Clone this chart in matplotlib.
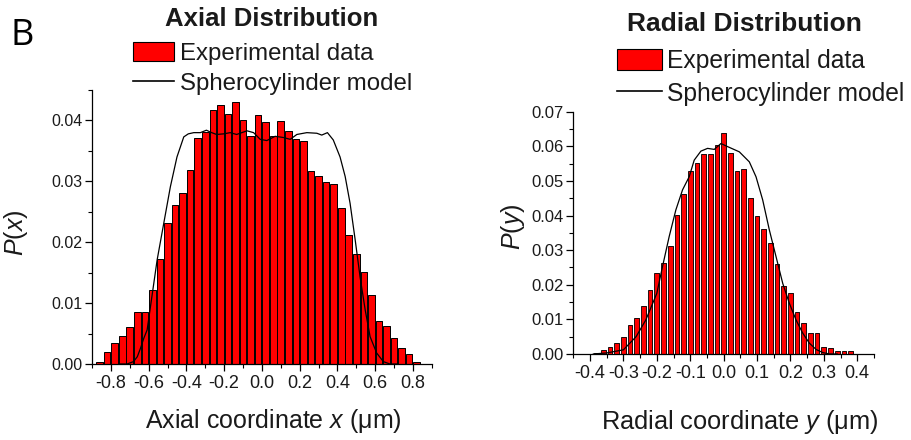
import numpy as np
import matplotlib
matplotlib.use("Agg")
import matplotlib.pyplot as plt
from matplotlib.ticker import MultipleLocator, FormatStrFormatter
from matplotlib.patches import Patch
from matplotlib.lines import Line2D

plt.rcParams['font.family'] = ['Liberation Sans', 'DejaVu Sans']
plt.rcParams['mathtext.fontset'] = 'custom'
plt.rcParams['mathtext.rm'] = 'Liberation Sans'
plt.rcParams['mathtext.it'] = 'Liberation Sans:italic'
plt.rcParams['axes.unicode_minus'] = False

# axial histogram (bin centres, bin width 0.04)
ax_centers = np.round(np.arange(-0.86, 0.83, 0.04), 2)
ax_hist = [0.0004, 0.0019, 0.0035, 0.0046, 0.0061, 0.0085, 0.0085, 0.0121, 0.0172,
           0.0232, 0.0261, 0.0281, 0.0318, 0.0371, 0.0381, 0.0418, 0.0426, 0.0410,
           0.0430, 0.0401, 0.0375, 0.0409, 0.0397, 0.0374, 0.0399, 0.0383, 0.0370,
           0.0367, 0.0317, 0.0308, 0.0299, 0.0296, 0.0257, 0.0212, 0.0181, 0.0151,
           0.0113, 0.0071, 0.0062, 0.0043, 0.0027, 0.0017, 0.0004]

# axial model curve
ax_model_x = [-0.75, -0.714, -0.68, -0.66, -0.643, -0.626, -0.608, -0.59, -0.555, -0.52,
              -0.485, -0.45, -0.414, -0.39, -0.361, -0.326, -0.294, -0.266, -0.24, -0.203,
              -0.168, -0.134, -0.079, -0.044, -0.009, 0.026, 0.07, 0.114, 0.15, 0.185,
              0.238, 0.291, 0.317, 0.347, 0.378, 0.414, 0.441, 0.467, 0.494, 0.52,
              0.547, 0.573, 0.608, 0.643, 0.678, 0.72]
ax_model_y = [0.0, 0.0, 0.0004, 0.0012, 0.0026, 0.0042, 0.0056, 0.0095, 0.0171, 0.0231,
              0.0291, 0.0340, 0.0373, 0.0378, 0.0380, 0.0380, 0.0384, 0.0380, 0.0377, 0.0378,
              0.0380, 0.0377, 0.0383, 0.0380, 0.0369, 0.0367, 0.0374, 0.0372, 0.0369, 0.0377,
              0.0380, 0.0379, 0.0376, 0.0380, 0.0368, 0.0340, 0.0308, 0.0264, 0.0204, 0.0143,
              0.0089, 0.0045, 0.0018, 0.0004, 0.0, 0.0]

# radial histogram (bin centres, bin width 0.02)
rad_centers = np.round(np.arange(-0.38, 0.39, 0.02), 2)
rad_hist = [0.0003, 0.0012, 0.0020, 0.0031, 0.0048, 0.0083, 0.0104, 0.0140, 0.0186,
            0.0235, 0.0264, 0.0313, 0.0401, 0.0461, 0.0528, 0.0551, 0.0579, 0.0579,
            0.0605, 0.0639, 0.0582, 0.0529, 0.0535, 0.0452, 0.0400, 0.0360, 0.0322,
            0.0261, 0.0195, 0.0177, 0.0120, 0.0089, 0.0062, 0.0060, 0.0021, 0.0018,
            0.0010, 0.0008, 0.0008]

# radial model curve
rad_model_x = [-0.39, -0.35, -0.30, -0.262, -0.233, -0.20, -0.183, -0.163, -0.143, -0.123,
               -0.103, -0.088, -0.068, -0.048, -0.028, -0.008, 0.012, 0.047, 0.077, 0.097,
               0.117, 0.137, 0.157, 0.177, 0.197, 0.217, 0.237, 0.257, 0.277, 0.297,
               0.317, 0.34]
rad_model_y = [0.0, 0.0003, 0.0012, 0.0050, 0.0098, 0.0175, 0.0252, 0.0339, 0.0416, 0.0474,
               0.0512, 0.0560, 0.0586, 0.0594, 0.0591, 0.0608, 0.0599, 0.0584, 0.0555, 0.0512,
               0.0445, 0.0358, 0.0281, 0.0204, 0.0146, 0.0098, 0.0060, 0.0031, 0.0013, 0.0004,
               0.0, 0.0]

txt = '#1a1a1a'
fig = plt.figure(figsize=(9.11, 4.40), dpi=100)

ax1 = fig.add_axes([0.101, 0.1727, 0.373, 0.6227])
ax2 = fig.add_axes([0.6293, 0.1955, 0.330, 0.5507])


def style(ax, xmaj, xmin, fs_x, fs_y):
    for s in ['top', 'right']:
        ax.spines[s].set_visible(False)
    for s in ['left', 'bottom']:
        ax.spines[s].set_linewidth(0.9)
    ax.xaxis.set_major_locator(MultipleLocator(xmaj))
    ax.xaxis.set_minor_locator(MultipleLocator(xmin))
    ax.yaxis.set_major_locator(MultipleLocator(0.01))
    ax.yaxis.set_minor_locator(MultipleLocator(0.005))
    ax.xaxis.set_major_formatter(FormatStrFormatter('%.1f'))
    ax.yaxis.set_major_formatter(FormatStrFormatter('%.2f'))
    ax.tick_params(which='major', direction='out', length=5, width=0.9, colors='black')
    ax.tick_params(which='minor', direction='out', length=3, width=0.8)
    ax.tick_params(axis='x', labelsize=fs_x, labelcolor=txt, pad=3)
    ax.tick_params(axis='y', labelsize=fs_y, labelcolor=txt, pad=2)


# left: axial
ax1.bar(ax_centers + 0.005, ax_hist, width=0.035, color='#8c8c8c', lw=0)
ax1.bar(ax_centers, ax_hist, width=0.035, color='#ff0000', edgecolor='black', lw=0.7)
ax1.plot(ax_model_x, ax_model_y, color='black', lw=0.9)
ax1.set_xlim(-0.9, 0.9)
ax1.set_ylim(0, 0.045)
style(ax1, 0.2, 0.1, 13, 11.5)

# right: radial
ax2.bar(rad_centers + 0.003, rad_hist, width=0.014, color='#8c8c8c', lw=0)
ax2.bar(rad_centers, rad_hist, width=0.014, color='#ff0000', edgecolor='black', lw=0.6)
ax2.plot(rad_model_x, rad_model_y, color='black', lw=0.9)
ax2.set_xlim(-0.45, 0.45)
ax2.set_ylim(0, 0.07)
style(ax2, 0.1, 0.05, 13, 12)

# labels
fig.text(10 / 911, 1 - 36 / 440, 'B', fontsize=26, family='Open Sans', va='center', ha='left')
fig.text(272 / 911, 1 - 19 / 440, 'Axial Distribution', fontsize=18.5, fontweight='bold',
         ha='center', va='center', color=txt)
fig.text(744 / 911, 1 - 24 / 440, 'Radial Distribution', fontsize=19, fontweight='bold',
         ha='center', va='center', color=txt)
fig.text(273 / 911, 1 - 421 / 440, 'Axial coordinate $x$ (μm)', fontsize=18,
         ha='center', va='center', color=txt)
fig.text(740 / 911, 1 - 422 / 440, 'Radial coordinate $y$ (μm)', fontsize=18.3,
         ha='center', va='center', color=txt)
fig.text(16 / 911, 1 - 233 / 440, '$P$($x$)', fontsize=18, rotation=90,
         ha='center', va='center', color=txt)
fig.text(513 / 911, 1 - 227 / 440, '$P$($y$)', fontsize=18, rotation=90,
         ha='center', va='center', color=txt)

# legends
handles = [Patch(facecolor='#ff0000', edgecolor='black', lw=0.8),
           Line2D([], [], color='black', lw=1.2)]
labels = ['Experimental data', 'Spherocylinder model']
leg1 = fig.legend(handles, labels, loc='upper left', bbox_to_anchor=(133 / 911, 1 - 42 / 440),
                  frameon=False, fontsize=17.3, handlelength=1.72, handleheight=0.85,
                  handletextpad=0.25, labelspacing=0.3, borderpad=0, borderaxespad=0)
leg2 = fig.legend(handles, labels, loc='upper left', bbox_to_anchor=(617 / 911, 1 - 49 / 440),
                  frameon=False, fontsize=17.7, handlelength=1.82, handleheight=0.92,
                  handletextpad=0.22, labelspacing=0.36, borderpad=0, borderaxespad=0)
for leg in (leg1, leg2):
    for t in leg.get_texts():
        t.set_color(txt)

fig.savefig('out.png', dpi=100)
